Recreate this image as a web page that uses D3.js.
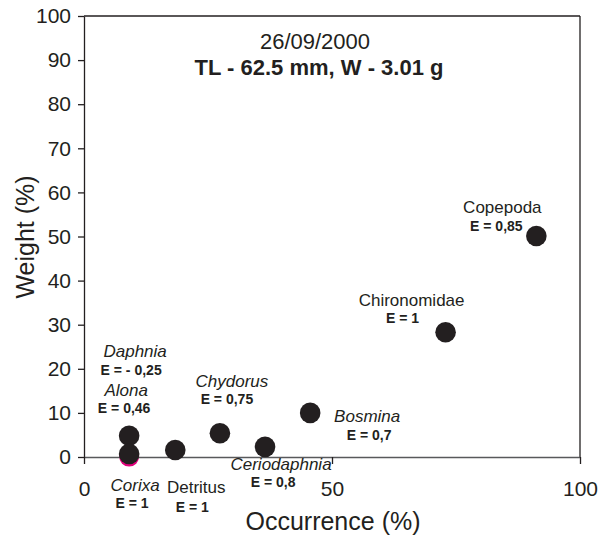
<!DOCTYPE html>
<html>
<head>
<meta charset="utf-8">
<script src="https://cdn.jsdelivr.net/npm/d3@7"></script>
<style>
  body { margin: 0; background: #fff; }
  svg { font-family: "Liberation Sans", Arial, sans-serif; }
</style>
</head>
<body>
<div id="chart"></div>
<script>
"use strict";

// data
var taxa = ["Copepoda", "Chironomidae", "Bosmina", "Ceriodaphnia", "Chydorus", "Detritus", "Alona", "Corixa"];
var occurrence = [91.2, 72.9, 45.6, 36.5, 27.4, 18.4, 9.1, 9.1];
var weight = [50.1, 28.3, 10.0, 2.3, 5.4, 1.6, 4.8, 0.7];
var electivity = ["E = 0,85", "E = 1", "E = 0,7", "E = 0,8", "E = 0,75", "E = 1", "E = 0,46", "E = 1"];
var italicTaxa = ["Bosmina", "Ceriodaphnia", "Chydorus", "Alona", "Corixa", "Daphnia"];

// the Daphnia point sits hidden under Corixa
var hiddenTaxon = "Daphnia";
var hiddenOccurrence = 9.1;
var hiddenWeight = 0.1;
var hiddenElectivity = "E = - 0,25";

var yTicks = [0, 10, 20, 30, 40, 50, 60, 70, 80, 90, 100];
var xTicks = [0, 50, 100];

// label offsets from each point (name dx, name dy, E dx, E dy), in pixels
var labelOffsets = {
    "Copepoda": [-34, -23, -40, -5],
    "Chironomidae": [-34, -26, -43, -9],
    "Bosmina": [57, 9, 59, 27],
    "Ceriodaphnia": [16, 23, 8, 40],
    "Chydorus": [12, -46, 7, -29],
    "Detritus": [21, 43, 17, 62],
    "Alona": [-3, -40, -5, -23],
    "Corixa": [6, 37, 3, 54],
    "Daphnia": [6, -100, 2, -82]
};

var ink = "#231f20";
var width = 598, height = 538;

var svg = d3.select("#chart").append("svg")
    .attr("width", width)
    .attr("height", height);

// set the ranges
var x = d3.scaleLinear().domain([0, 100]).range([84, 580]);
var y = d3.scaleLinear().domain([0, 100]).range([457, 16]);

// frame: top and right lines
svg.append("line")
    .attr("x1", x(0)).attr("x2", x(100))
    .attr("y1", y(100)).attr("y2", y(100))
    .attr("stroke", ink).attr("stroke-width", 1.3);
svg.append("line")
    .attr("x1", x(100)).attr("x2", x(100))
    .attr("y1", y(100)).attr("y2", y(0))
    .attr("stroke", ink).attr("stroke-width", 1.3);

// hidden magenta point (drawn before the axis line)
svg.append("circle")
    .attr("cx", x(hiddenOccurrence))
    .attr("cy", y(hiddenWeight))
    .attr("r", 10)
    .attr("fill", "#e0007a");

// Y axis
var yAxis = svg.append("g")
    .attr("transform", "translate(" + x(0) + ",0)")
    .call(d3.axisLeft(y).tickValues(yTicks).tickSize(6).tickSizeOuter(0).tickPadding(7));

// X axis
var xAxis = svg.append("g")
    .attr("transform", "translate(0," + y(0) + ")")
    .call(d3.axisBottom(x).tickValues(xTicks).tickSize(7).tickSizeOuter(0).tickPadding(17));

[yAxis, xAxis].forEach(function (g) {
    g.selectAll("path, line").attr("stroke", ink).attr("stroke-width", 1.3);
    g.selectAll("text")
        .attr("fill", ink)
        .style("font-size", "21px")
        .style("font-family", "Liberation Sans, Arial, sans-serif");
});
xAxis.select(".domain").attr("stroke", "#58595b");

// the dots
var points = taxa.map(function (t, i) {
    return { name: t, occ: occurrence[i], w: weight[i], e: electivity[i] };
});

svg.selectAll("circle.dot")
    .data(points)
    .enter().append("circle")
    .attr("class", "dot")
    .attr("cx", function (d) { return x(d.occ); })
    .attr("cy", function (d) { return y(d.w); })
    .attr("r", 10.3)
    .attr("fill", ink);

// labels
var labelled = points.concat([{ name: hiddenTaxon, occ: hiddenOccurrence, w: hiddenWeight, e: hiddenElectivity }]);

labelled.forEach(function (d) {
    var o = labelOffsets[d.name];
    svg.append("text")
        .attr("x", x(d.occ) + o[0])
        .attr("y", y(d.w) + o[1])
        .attr("text-anchor", "middle")
        .attr("fill", ink)
        .style("font-size", "17px")
        .style("font-style", italicTaxa.indexOf(d.name) >= 0 ? "italic" : "normal")
        .text(d.name);
    svg.append("text")
        .attr("x", x(d.occ) + o[2])
        .attr("y", y(d.w) + o[3])
        .attr("text-anchor", "middle")
        .attr("fill", ink)
        .style("font-size", "14px")
        .style("font-weight", "bold")
        .text(d.e);
});

// title
svg.append("text")
    .attr("x", 315)
    .attr("y", 49)
    .attr("text-anchor", "middle")
    .attr("fill", ink)
    .style("font-size", "22px")
    .text("26/09/2000");

svg.append("text")
    .attr("x", 319)
    .attr("y", 75)
    .attr("text-anchor", "middle")
    .attr("fill", ink)
    .style("font-size", "22px")
    .style("font-weight", "bold")
    .text("TL - 62.5 mm, W - 3.01 g");

// axis titles
svg.append("text")
    .attr("x", 333)
    .attr("y", 530)
    .attr("text-anchor", "middle")
    .attr("fill", ink)
    .style("font-size", "25px")
    .text("Occurrence (%)");

svg.append("text")
    .attr("transform", "translate(34," + 237 + ") rotate(-90)")
    .attr("text-anchor", "middle")
    .attr("fill", ink)
    .style("font-size", "25px")
    .text("Weight (%)");
</script>
</body>
</html>
